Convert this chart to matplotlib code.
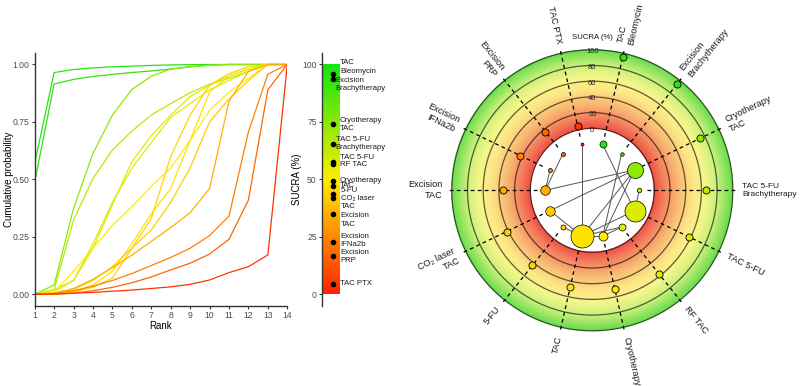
import numpy as np
import matplotlib
matplotlib.use("Agg")
import matplotlib.pyplot as plt
from matplotlib.colors import LinearSegmentedColormap, to_rgb

plt.rcParams['font.family'] = ['Liberation Sans', 'DejaVu Sans']

# treatments, ordered by SUCRA (clockwise from the top of the radial plot)
treatments = ["TAC\nBleomycin", "Excision\nBrachytherapy", "Cryotherapy\nTAC",
              "TAC 5-FU\nBrachytherapy", "TAC 5-FU", "RF TAC", "Cryotherapy", "TAC",
              "5-FU", "CO₂ laser\nTAC", "Excision\nTAC", "Excision\nIFNa2b",
              "Excision\nPRP", "TAC PTX"]
sucra = [95.7, 93.5, 74.0, 65.3, 57.5, 56.8, 49.4, 47.0, 43.5, 42.0, 35.0, 22.7, 16.7, 4.5]

ranks = list(range(1, 15))
cum_prob = [
    [0.57, 0.965, 0.978, 0.985, 0.99, 0.993, 0.996, 0.998, 0.999, 1, 1, 1, 1, 1],
    [0.49, 0.915, 0.935, 0.948, 0.957, 0.965, 0.972, 0.98, 0.99, 0.997, 1, 1, 1, 1],
    [0, 0.04, 0.374, 0.613, 0.78, 0.891, 0.949, 0.98, 0.99, 0.997, 1, 1, 1, 1],
    [0, 0.02, 0.323, 0.504, 0.628, 0.71, 0.78, 0.83, 0.877, 0.914, 0.94, 0.97, 1, 1],
    [0, 0.01, 0.06, 0.2, 0.39, 0.577, 0.69, 0.78, 0.86, 0.91, 0.95, 0.98, 1, 1],
    [0, 0.02, 0.06, 0.22, 0.40, 0.548, 0.66, 0.77, 0.83, 0.89, 0.93, 0.97, 1, 1],
    [0, 0.01, 0.1, 0.2, 0.3, 0.38, 0.47, 0.55, 0.67, 0.8, 0.88, 0.94, 1, 1],
    [0, 0, 0.01, 0.04, 0.1, 0.22, 0.35, 0.46, 0.67, 0.88, 0.95, 0.98, 1, 1],
    [0, 0, 0.01, 0.03, 0.07, 0.2, 0.33, 0.6, 0.78, 0.91, 0.96, 0.99, 1, 1],
    [0, 0.005, 0.02, 0.06, 0.12, 0.2, 0.28, 0.4, 0.55, 0.75, 0.85, 0.93, 1, 1],
    [0, 0.005, 0.025, 0.065, 0.115, 0.17, 0.23, 0.29, 0.355, 0.46, 0.84, 0.97, 1, 1],
    [0, 0.003, 0.015, 0.035, 0.06, 0.09, 0.125, 0.16, 0.2, 0.255, 0.34, 0.707, 0.958, 1],
    [0, 0, 0.005, 0.015, 0.03, 0.05, 0.075, 0.106, 0.135, 0.175, 0.239, 0.41, 0.89, 1],
    [0, 0.001, 0.004, 0.008, 0.013, 0.018, 0.025, 0.032, 0.043, 0.062, 0.094, 0.12, 0.171, 1],
]

# network: node weights (drawn as diameter) and comparisons
node_weight = [7, 3.5, 16, 4.5, 21, 7, 9, 23, 5, 9.5, 9.5, 4, 4, 3]
edges = [(13, 7), (0, 4), (1, 6), (2, 10), (2, 9), (2, 7), (2, 6), (3, 4),
         (4, 7), (5, 6), (5, 7), (6, 7), (8, 7), (9, 7), (11, 10), (12, 10)]

# label placement next to the SUCRA bar (repelled positions)
bar_label_y = [98.9, 91.2, 73.8, 65.6, 59.6, 56.4, 49.7, 47.5, 45.0, 39.9, 32.3, 23.4, 16.4, 4.5]
bar_label_x = [340, 335.7, 340, 335.7, 340, 340, 340, 340, 340.7, 340.7, 340.7, 340, 340.7, 340]

cmap = LinearSegmentedColormap.from_list("sucra", ["#ff2200", "#ffee00", "#11e411"])
band_cmap = LinearSegmentedColormap.from_list(
    "band", [(0.0, "#ef4e44"), (0.12, "#f47c5c"), (0.3, "#f9b672"), (0.5, "#fde684"),
             (0.65, "#f6f68a"), (0.82, "#c6f07a"), (1.0, "#6cdc4e")])

W, H = 800, 386
fig = plt.figure(figsize=(W / 100, H / 100), dpi=100)

# ---------------- cumulative ranking curves ----------------
ax1 = fig.add_axes([34.7 / W, 80.3 / H, 252.6 / W, 252.7 / H])
for i in range(len(treatments)):
    ax1.plot(ranks, cum_prob[i], color=cmap(sucra[i] / 100), lw=0.9)
ax1.set_xlim(1, 14)
ax1.set_ylim(-0.05, 1.05)
ax1.set_xticks(ranks)
ax1.set_yticks([0, 0.25, 0.5, 0.75, 1.0])
ax1.set_yticklabels(["0.00", "0.25", "0.50", "0.75", "1.00"])
for s in ["top", "right"]:
    ax1.spines[s].set_visible(False)
for s in ["left", "bottom"]:
    ax1.spines[s].set_color("#333333")
    ax1.spines[s].set_linewidth(1.0)
ax1.tick_params(colors="#333333", labelcolor="#4d4d4d", labelsize=6.2, length=2.5, width=0.8, pad=1.5)
ax1.set_xlabel("Rank", fontsize=7)
ax1.set_ylabel("Cumulative probability", fontsize=7)
ax1.xaxis.set_label_coords(0.5, -0.06)
ax1.yaxis.set_label_coords(-0.083, 0.5)

# ---------------- SUCRA bar ----------------
ax2 = fig.add_axes([322.3 / W, 80.3 / H, 80 / W, 252.7 / H])
ax2.set_xlim(0, 1)
ax2.set_ylim(-5, 105)
grad = np.linspace(0, 1, 256).reshape(-1, 1)
ax2.imshow(grad, cmap=cmap, origin="lower", extent=(0, 17.7 / 80, 0, 100), aspect="auto")
ax2.scatter([10.4 / 80] * len(sucra), sucra, s=9, color="black", zorder=3)
for i, t in enumerate(treatments):
    ax2.text((bar_label_x[i] - 322.3) / 80, bar_label_y[i], t, fontsize=5.6, color="#1a1a1a",
             ha="left", va="center", linespacing=1.3)
for s in ["top", "right", "bottom"]:
    ax2.spines[s].set_visible(False)
ax2.spines["left"].set_color("#333333")
ax2.spines["left"].set_linewidth(1.0)
ax2.set_xticks([])
ax2.set_yticks([0, 25, 50, 75, 100])
ax2.tick_params(colors="#333333", labelcolor="#4d4d4d", labelsize=6.2, length=2.5, width=0.8, pad=1.5)
ax2.set_ylabel("SUCRA (%)", fontsize=7)
ax2.yaxis.set_label_coords(-0.25, 0.5)

# ---------------- radial SUCRA / network plot ----------------
cx, cy = 592.3, 190.3
ax3 = fig.add_axes([400 / W, 0, 400 / W, 1])
ax3.set_xlim(400 - cx, 800 - cx)
ax3.set_ylim(-(H - cy), cy)
ax3.axis("off")

R0, K = 62.0, 0.785          # radius of SUCRA 0 and pixels per SUCRA unit
def rad(s):
    return R0 + K * s

n = 400
g = np.linspace(-145, 145, n)
gx, gy = np.meshgrid(g, g)
rr = np.hypot(gx, gy)
sv = np.clip((rr - R0) / K / 100, 0, 1)
img = band_cmap(sv)
img[..., 3] = ((rr >= R0) & (rr <= rad(100) + 0.5)).astype(float)
ax3.imshow(img, extent=(-145, 145, -145, 145), origin="lower", zorder=0, interpolation="bilinear")

tt = np.linspace(0, 2 * np.pi, 400)
for s in [0, 20, 40, 60, 80, 100]:
    c = np.array(to_rgb(band_cmap(s / 100))) * 0.38
    ax3.plot(rad(s) * np.cos(tt), rad(s) * np.sin(tt), color=c, lw=0.9, zorder=1)

# spokes, dots and labels
nt = len(treatments)
theta = [360 / nt * (i + 0.5) for i in range(nt)]
inner_xy = []
for i in range(nt):
    phi = np.deg2rad(90 - theta[i])
    ux, uy = np.cos(phi), np.sin(phi)
    ax3.plot([55 * ux, 146 * ux], [55 * uy, 146 * uy], color="black", lw=0.9,
             ls=(0, (3, 2.6)), zorder=2)
    r = rad(sucra[i])
    ax3.scatter([r * ux], [r * uy], s=26, color=cmap(sucra[i] / 100), edgecolors="black",
                linewidths=0.6, zorder=4)
    inner_xy.append((47 * ux, 47 * uy))
    deg = 90 - theta[i]
    if ux >= -1e-9:
        rot, ha = deg, "left"
    else:
        rot, ha = deg + 180, "right"
    fs = 6.0 if "Brachytherapy" in treatments[i] and abs(uy) < 0.1 else 6.6
    ax3.text(150 * ux, 150 * uy, treatments[i], rotation=rot, rotation_mode="anchor",
             ha=ha, va="center", fontsize=fs, color="#1a1a1a", linespacing=1.25)

for a, b in edges:
    ax3.plot([inner_xy[a][0], inner_xy[b][0]], [inner_xy[a][1], inner_xy[b][1]],
             color="#555555", lw=0.7, zorder=3)
for i in range(nt):
    ax3.scatter([inner_xy[i][0]], [inner_xy[i][1]], s=(node_weight[i] * 0.72) ** 2,
                color=cmap(sucra[i] / 100), edgecolors="black", linewidths=0.5, zorder=4)

for s in [0, 20, 40, 60, 80, 100]:
    ax3.text(0, rad(s) - 2, str(s), fontsize=5.5, color="#222222", ha="center", va="center",
             zorder=3)
ax3.text(0, 153, "SUCRA (%)", fontsize=5.6, color="#111111", ha="center", va="center")

fig.savefig("out.png", dpi=100)
